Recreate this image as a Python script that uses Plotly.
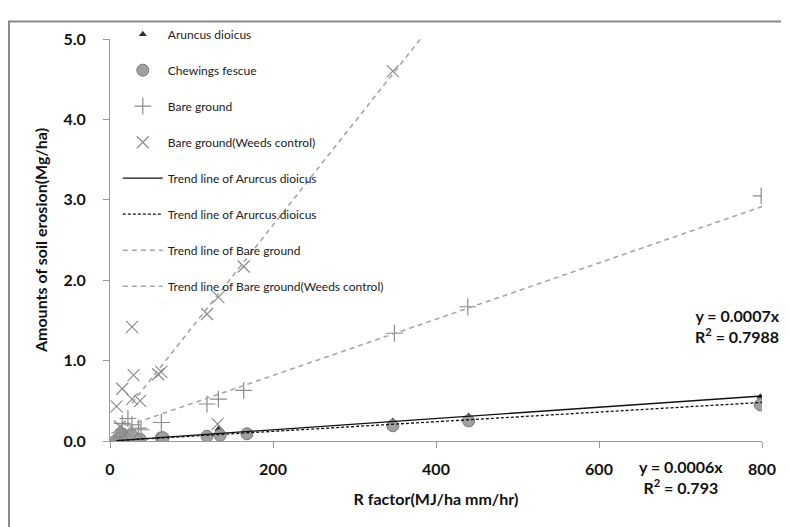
import plotly.graph_objects as go

# ---- data ----
aruncus_x = [8, 15, 20, 27, 37, 63, 119, 133, 137, 168, 347, 440, 798]
aruncus_y = [0.02, 0.10, 0.05, 0.08, 0.03, 0.04, 0.09, 0.15, 0.10, 0.12, 0.25, 0.31, 0.55]

fescue_x = [8, 12, 15, 20, 27, 37, 63, 65, 119, 135, 168, 347, 440, 798]
fescue_y = [0.01, 0.03, 0.09, 0.00, 0.07, 0.02, 0.04, 0.04, 0.06, 0.07, 0.09, 0.19, 0.25, 0.45]

bare_x = [8, 12, 15, 22, 27, 35, 38, 63, 119, 133, 164, 349, 439, 799]
bare_y = [0.05, 0.10, 0.22, 0.28, 0.20, 0.16, 0.14, 0.23, 0.46, 0.52, 0.63, 1.34, 1.67, 3.05]

weeds_x = [8, 12, 15, 20, 27, 27, 29, 37, 59, 63, 119, 132, 133, 164, 347]
weeds_y = [0.43, 0.18, 0.65, 0.12, 0.52, 1.42, 0.82, 0.50, 0.83, 0.86, 1.58, 0.21, 1.79, 2.17, 4.60]

# trend lines: slope, intercept, x range
trend_aruncus = dict(slope=0.0007, intercept=0.0, x=[8, 800])
trend_fescue = dict(slope=0.0006, intercept=0.0, x=[8, 800])
trend_bare = dict(slope=0.0035, intercept=0.115, x=[33, 800])
trend_weeds = dict(slope=0.0128, intercept=0.125, x=[27, 400])

x_ticks = [0, 200, 400, 600, 800]
y_ticks = [0.0, 1.0, 2.0, 3.0, 4.0, 5.0]

FONT = "Lato"
GRAY = "#8c8c8c"
LGRAY = "#a6a6a6"


def tline(t):
    return [t["intercept"] + t["slope"] * v for v in t["x"]]


fig = go.Figure()

fig.add_trace(go.Scatter(x=aruncus_x, y=aruncus_y, mode="markers", name="Aruncus dioicus",
                         legendgroup="a",
                         marker=dict(symbol="triangle-up", size=7, color="#333333")))
fig.add_trace(go.Scatter(x=fescue_x, y=fescue_y, mode="markers", name="Chewings fescue",
                         legendgroup="b",
                         marker=dict(symbol="circle", size=12, color="#a0a0a0",
                                     line=dict(color="#7a7a7a", width=1))))
fig.add_trace(go.Scatter(x=bare_x, y=bare_y, mode="markers", name="Bare ground",
                         legendgroup="c",
                         marker=dict(symbol="cross-thin-open", size=12, color=GRAY,
                                     line=dict(color=GRAY, width=1.2))))
fig.add_trace(go.Scatter(x=weeds_x, y=weeds_y, mode="markers", name="Bare ground(Weeds control)",
                         legendgroup="d",
                         marker=dict(symbol="x-thin-open", size=12, color=GRAY,
                                     line=dict(color=GRAY, width=1.2))))

fig.add_trace(go.Scatter(x=trend_aruncus["x"], y=tline(trend_aruncus), mode="lines",
                         name="Trend line of Arurcus dioicus", legendgroup="e",
                         line=dict(color="#111111", width=1.3)))
fig.add_trace(go.Scatter(x=trend_fescue["x"], y=tline(trend_fescue), mode="lines",
                         name="Trend line of Arurcus dioicus", legendgroup="f",
                         line=dict(color="#111111", width=1.3, dash="3px,2px")))
fig.add_trace(go.Scatter(x=trend_bare["x"], y=tline(trend_bare), mode="lines",
                         name="Trend line of Bare ground", legendgroup="g",
                         line=dict(color=LGRAY, width=1.6, dash="5px,4px")))
fig.add_trace(go.Scatter(x=trend_weeds["x"], y=tline(trend_weeds), mode="lines",
                         name="Trend line of Bare ground(Weeds control)", legendgroup="h",
                         line=dict(color=LGRAY, width=1.6, dash="5px,4px")))

fig.add_annotation(x=1.03, y=0.285, xref="paper", yref="paper", xanchor="right", yanchor="middle",
                   text="y = 0.0007x<br>R<sup>2</sup> = 0.7988", showarrow=False, align="right",
                   font=dict(family=FONT, size=16, color="#111111", weight="bold"))
fig.add_annotation(x=0.875, y=-0.09, xref="paper", yref="paper", xanchor="center", yanchor="middle",
                   text="y = 0.0006x<br>R<sup>2</sup> = 0.793", showarrow=False, align="center",
                   font=dict(family=FONT, size=16, color="#111111", weight="bold"))

fig.add_shape(type="rect", xref="paper", yref="paper", x0=-0.155, y0=-0.4, x1=1.2, y1=1.0434,
              line=dict(color="#888888", width=2), fillcolor="rgba(0,0,0,0)", layer="above")

fig.update_layout(
    width=781, height=519,
    margin=dict(l=102, r=27, t=18, b=86),
    paper_bgcolor="white", plot_bgcolor="white",
    font=dict(family=FONT, color="#111111"),
    showlegend=True,
    legend=dict(x=0.012, y=1.048, xanchor="left", yanchor="top", maxheight=600,
                bgcolor="rgba(0,0,0,0)", tracegroupgap=17, itemwidth=40,
                font=dict(family=FONT, size=12, color="#222222")),
    xaxis=dict(range=[0, 800], tickvals=x_ticks, ticktext=[str(v) for v in x_ticks],
               showgrid=False, zeroline=False, showline=True, linecolor="#9a9a9a", linewidth=1,
               ticks="outside", ticklen=6, tickcolor="#9a9a9a", ticklabelstandoff=8,
               tickfont=dict(family=FONT, size=16, color="#111111", weight="bold"),
               title=dict(text="R factor(MJ/ha mm/hr)", standoff=16,
                          font=dict(family=FONT, size=16, color="#111111", weight="bold"))),
    yaxis=dict(range=[0, 5], tickvals=y_ticks, ticktext=["%.1f" % v for v in y_ticks],
               showgrid=False, zeroline=False, showline=True, linecolor="#9a9a9a", linewidth=1,
               ticks="outside", ticklen=6, tickcolor="#9a9a9a", ticklabelstandoff=14,
               tickfont=dict(family=FONT, size=16, color="#111111", weight="bold"),
               title=dict(text="Amounts of soil erosion(Mg/ha)", standoff=11,
                          font=dict(family=FONT, size=16, color="#111111", weight="bold"))),
)

fig.write_html("out.html")
